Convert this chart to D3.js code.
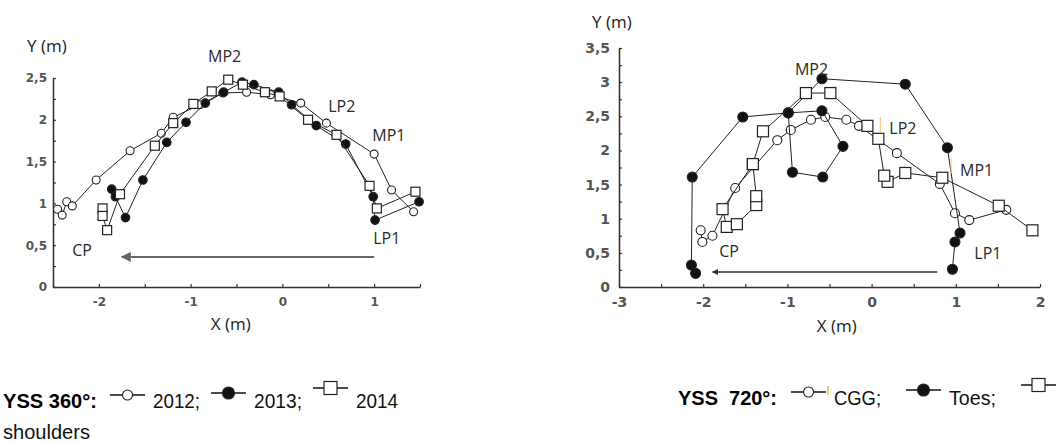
<!DOCTYPE html>
<html>
<head>
<meta charset="utf-8">
<script src="https://cdn.jsdelivr.net/npm/d3@7"></script>
<style>
  body { margin: 0; background: #fff; }
  svg { display: block; }
</style>
</head>
<body>
<div id="chart"></div>
<script>
// ---- data (x, y in metres) ----
// YSS 360° shoulders
const yss360_2012 = [[-2.45,0.93],[-2.40,0.86],[-2.35,1.02],[-2.29,0.97],[-2.03,1.28],[-1.66,1.63],[-1.32,1.84],[-1.19,2.03],[-0.90,2.18],[-0.65,2.32],[-0.39,2.33],[-0.13,2.30],[0.20,2.20],[0.48,1.96],[1.00,1.59],[1.19,1.16],[1.43,0.90]];
const yss360_2013 = [[-1.86,1.17],[-1.82,1.08],[-1.71,0.83],[-1.52,1.28],[-1.26,1.73],[-1.05,1.97],[-0.84,2.20],[-0.64,2.33],[-0.44,2.45],[-0.31,2.42],[-0.04,2.33],[0.10,2.18],[0.37,1.93],[0.69,1.71],[0.99,1.08],[1.01,0.80],[1.49,1.02]];
const yss360_2014 = [[-1.96,0.94],[-1.96,0.85],[-1.91,0.68],[-1.77,1.11],[-1.39,1.69],[-1.19,1.96],[-0.97,2.19],[-0.77,2.34],[-0.59,2.48],[-0.43,2.42],[-0.19,2.33],[-0.03,2.28],[0.28,2.00],[0.59,1.82],[0.95,1.21],[1.03,0.94],[1.45,1.14]];

// YSS 720°
const yss720_cgg = [[1.60,1.13],[1.16,0.98],[0.99,1.08],[0.81,1.51],[0.30,1.96],[-0.15,2.36],[-0.30,2.45],[-0.55,2.49],[-0.72,2.45],[-0.96,2.30],[-1.12,2.15],[-1.62,1.45],[-1.89,0.75],[-2.01,0.66],[-2.03,0.83]];
const yss720_toes = [[0.96,0.26],[0.99,0.66],[1.05,0.79],[0.90,2.04],[0.40,2.97],[-0.59,3.05],[-0.99,2.55],[-0.59,2.58],[-0.34,2.06],[-0.58,1.61],[-0.94,1.68],[-0.99,2.55],[-1.53,2.49],[-2.13,1.61],[-2.14,0.32],[-2.09,0.20]];
const yss720_shoulders = [[1.91,0.83],[1.51,1.19],[0.84,1.60],[0.40,1.67],[0.19,1.54],[0.15,1.63],[0.08,2.17],[-0.05,2.36],[-0.49,2.84],[-0.78,2.84],[-1.29,2.28],[-1.41,1.80],[-1.77,1.14],[-1.72,0.88],[-1.60,0.92],[-1.37,1.20],[-1.37,1.33],[-1.41,1.80]];

// phase labels and where they sit (data coords)
const phaseLabels = ['MP2', 'LP2', 'MP1', 'LP1', 'CP'];
const phaseAt360 = [[-0.81,2.69],[0.50,2.09],[0.98,1.75],[0.99,0.51],[-2.29,0.37]];
const phaseAt720 = [[-0.91,3.10],[0.21,2.24],[1.05,1.63],[1.22,0.41],[-1.81,0.44]];

// direction arrows [from, to]
const arrow360 = [[1.0,0.36],[-1.75,0.36]];
const arrow720 = [[0.78,0.22],[-1.89,0.22]];

// axis ticks
const xTicks360 = [-2.5,-2,-1.5,-1,-0.5,0,0.5,1,1.5];
const yTicks360 = [0,0.25,0.5,0.75,1,1.25,1.5,1.75,2,2.25,2.5];
const xTicks720 = [-3,-2.5,-2,-1.5,-1,-0.5,0,0.5,1,1.5,2];
const yTicks720 = [0,0.25,0.5,0.75,1,1.25,1.5,1.75,2,2.25,2.5,2.75,3,3.25,3.5];

// legends
const legendTitle360 = 'YSS 360°:';
const legendItems360 = [['open','2012;'],['filled','2013;'],['square','2014']];
const legendTitle720 = 'YSS  720°:';
const legendItems720 = [['open','CGG;'],['filled','Toes;'],['square','']];

const width = 1061, height = 442;

const svg = d3.select('#chart').append('svg')
  .attr('width', width)
  .attr('height', height);

svg.append('defs').selectAll('marker')
  .data([['headL', '#666'], ['headR', '#333']])
  .join('marker')
  .attr('id', d => d[0])
  .attr('viewBox', '0 0 10 10')
  .attr('refX', 9).attr('refY', 5)
  .attr('markerWidth', 5).attr('markerHeight', 5)
  .attr('markerUnits', 'strokeWidth')
  .attr('orient', 'auto')
  .append('path')
  .attr('d', 'M0,0L10,5L0,10Z')
  .attr('fill', d => d[1]);

const decimal = d => String(d).replace('.', ',');

function panel(opt) {
  const x = d3.scaleLinear().domain(opt.xDomain).range(opt.xRange);
  const y = d3.scaleLinear().domain(opt.yDomain).range(opt.yRange);
  const g = svg.append('g');

  // axes
  const xAxis = g.append('g')
    .attr('transform', `translate(0,${opt.yRange[0]})`)
    .call(d3.axisBottom(x).tickValues(opt.xTicks)
      .tickFormat(d => Number.isInteger(d) ? d : '')
      .tickSizeInner(-3).tickSizeOuter(0).tickPadding(opt.xPad));
  const yAxis = g.append('g')
    .attr('transform', `translate(${opt.xRange[0]},0)`)
    .call(d3.axisLeft(y).tickValues(opt.yTicks)
      .tickFormat(d => Number.isInteger(d * 2) ? decimal(d) : '')
      .tickSizeInner(-3).tickSizeOuter(0).tickPadding(opt.yPad));
  [xAxis, yAxis].forEach(a => {
    a.select('.domain').attr('stroke', '#333').attr('stroke-width', 1.6);
    a.selectAll('.tick line').attr('stroke', '#333').attr('stroke-width', 1.2);
    a.selectAll('text')
      .attr('font-family', 'DejaVu Sans, sans-serif')
      .attr('font-weight', 'bold')
      .attr('font-size', opt.tickFont)
      .attr('fill', '#555');
  });

  // axis titles
  g.append('text')
    .attr('x', opt.xRange[0] + opt.yTitle[0])
    .attr('y', y(opt.yDomain[1]) + opt.yTitle[1])
    .attr('font-family', 'Open Sans, sans-serif')
    .attr('font-size', 17).attr('fill', '#222')
    .text('Y (m)');
  g.append('text')
    .attr('x', x(opt.xTitle[0]))
    .attr('y', opt.yRange[0] + opt.xTitle[1])
    .attr('font-family', 'Open Sans, sans-serif')
    .attr('font-size', 17).attr('fill', '#222')
    .text('X (m)');

  // arrow
  g.append('line')
    .attr('x1', x(opt.arrow[0][0])).attr('y1', y(opt.arrow[0][1]))
    .attr('x2', x(opt.arrow[1][0])).attr('y2', y(opt.arrow[1][1]))
    .attr('stroke', opt.arrowColor)
    .attr('stroke-width', opt.arrowWidth)
    .attr('marker-end', `url(#${opt.arrowHead})`);

  // series
  const line = d3.line().x(d => x(d[0])).y(d => y(d[1]));
  opt.series.forEach(s => {
    g.append('path')
      .datum(s.data)
      .attr('d', line)
      .attr('fill', 'none')
      .attr('stroke', '#222')
      .attr('stroke-width', 1);
    drawMarkers(g, s.data.map(d => [x(d[0]), y(d[1])]), s.type, opt.markSize);
  });

  // phase labels
  g.selectAll('text.phase')
    .data(phaseLabels)
    .join('text')
    .attr('class', 'phase')
    .attr('x', (d, i) => x(opt.labelsAt[i][0]))
    .attr('y', (d, i) => y(opt.labelsAt[i][1]))
    .attr('font-family', 'Open Sans, sans-serif')
    .attr('font-size', 16)
    .attr('fill', '#2a2a2a')
    .text(d => d);

  return { x, y, g };
}

function drawMarkers(g, pts, type, size) {
  if (type === 'square') {
    g.append('g').selectAll('rect').data(pts).join('rect')
      .attr('x', d => d[0] - size.sq / 2).attr('y', d => d[1] - size.sq / 2)
      .attr('width', size.sq).attr('height', size.sq)
      .attr('fill', '#fff').attr('stroke', '#222').attr('stroke-width', 1.2);
  } else {
    g.append('g').selectAll('circle').data(pts).join('circle')
      .attr('cx', d => d[0]).attr('cy', d => d[1])
      .attr('r', type === 'filled' ? size.dot : size.ring)
      .attr('fill', type === 'filled' ? '#111' : '#fff')
      .attr('stroke', '#222').attr('stroke-width', 1.1);
  }
}

const left = panel({
  xDomain: [-2.5, 1.5], xRange: [53, 420],
  yDomain: [0, 2.5], yRange: [287, 78],
  xTicks: xTicks360, yTicks: yTicks360,
  xPad: 10, yPad: 6, tickFont: 12,
  yTitle: [-26, -26], xTitle: [-0.78, 43],
  arrow: arrow360, arrowColor: '#666', arrowWidth: 2, arrowHead: 'headL',
  markSize: { sq: 9, dot: 4.3, ring: 4 },
  series: [
    { data: yss360_2012, type: 'open' },
    { data: yss360_2013, type: 'filled' },
    { data: yss360_2014, type: 'square' }
  ],
  labelsAt: phaseAt360
});

const right = panel({
  xDomain: [-3, 2], xRange: [619, 1040],
  yDomain: [0, 3.5], yRange: [287, 48],
  xTicks: xTicks720, yTicks: yTicks720,
  xPad: 10, yPad: 9, tickFont: 14,
  yTitle: [-27, -20], xTitle: [-0.65, 45],
  arrow: arrow720, arrowColor: '#333', arrowWidth: 1.3, arrowHead: 'headR',
  markSize: { sq: 11, dot: 5, ring: 4.5 },
  series: [
    { data: yss720_cgg, type: 'open' },
    { data: yss720_toes, type: 'filled' },
    { data: yss720_shoulders, type: 'square' }
  ],
  labelsAt: phaseAt720
});

// faint orange marks beside some right-hand labels
right.g.selectAll('line.tick-o')
  .data([1, 2])
  .join('line')
  .attr('x1', i => right.x(phaseAt720[i][0]) - 9)
  .attr('x2', i => right.x(phaseAt720[i][0]) - 9)
  .attr('y1', i => right.y(phaseAt720[i][1]) - 17)
  .attr('y2', i => right.y(phaseAt720[i][1]) - 2)
  .attr('stroke', '#f3c27a').attr('stroke-width', 1);

// ---- legends ----
function legend(x0, baseline, title, titleW, items, widths, gapAfter, gapTitle) {
  const g = svg.append('g');
  g.append('text')
    .attr('x', x0).attr('y', baseline)
    .attr('font-family', 'Liberation Sans, Arial, sans-serif')
    .attr('font-weight', 'bold').attr('font-size', 21)
    .attr('textLength', titleW).attr('lengthAdjust', 'spacingAndGlyphs')
    .style('white-space', 'pre')
    .text(title);
  let cx = x0 + titleW + gapTitle;
  const symX = [];
  items.forEach((it, i) => {
    const dy = it[0] === 'square' ? -20 : it[0] === 'filled' ? -15 : -13;
    const cy = baseline + dy;
    symX.push(cx);
    g.append('line')
      .attr('x1', cx).attr('x2', cx + 35).attr('y1', cy).attr('y2', cy)
      .attr('stroke', '#111').attr('stroke-width', 1.5);
    drawMarkers(g, [[cx + 17.5, cy]], it[0], { sq: 13, dot: 6, ring: 5 });
    cx += 35 + 8;
    if (it[1]) {
      g.append('text')
        .attr('x', cx).attr('y', baseline)
        .attr('font-family', 'Liberation Sans, Arial, sans-serif')
        .attr('font-size', 21)
        .attr('textLength', widths[i]).attr('lengthAdjust', 'spacingAndGlyphs')
        .attr('fill', '#111')
        .text(it[1]);
      cx += widths[i] + gapAfter;
    }
  });
  g.symX = symX;
  return g;
}

const leg360 = legend(3, 408, legendTitle360, 94, legendItems360, [47, 48, 42], 11, 13);
leg360.append('text')
  .attr('x', 3).attr('y', 439)
  .attr('font-family', 'Liberation Sans, Arial, sans-serif')
  .attr('font-size', 21)
  .attr('textLength', 87).attr('lengthAdjust', 'spacingAndGlyphs')
  .attr('fill', '#111')
  .text('shoulders');

const leg720 = legend(678, 405, legendTitle720, 99, legendItems720, [47, 47], 25, 14);
leg720.append('line')
  .attr('x1', leg720.symX[0] + 37).attr('x2', leg720.symX[0] + 37)
  .attr('y1', 386).attr('y2', 395)
  .attr('stroke', '#f3a33a').attr('stroke-width', 1.2);
</script>
</body>
</html>
